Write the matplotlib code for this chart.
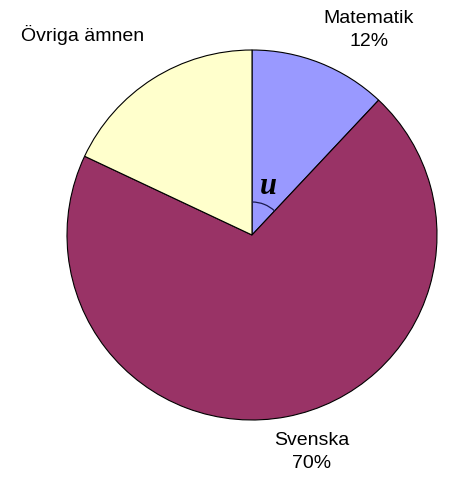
import matplotlib
matplotlib.use("Agg")
import matplotlib.pyplot as plt
from matplotlib.patches import Arc

# data
labels = ["Matematik", "Svenska", "Övriga ämnen"]
shares = [12, 70, 18]
show_pct = [True, True, False]
colors = ["#9999FF", "#993366", "#FFFFCC"]

W, H = 461, 482
cx, cy, r = 252, H - 235, 185

fig = plt.figure(figsize=(W / 100, H / 100), dpi=100)
ax = fig.add_axes([0, 0, 1, 1])

ax.pie(shares, colors=colors, startangle=90, counterclock=False,
       center=(cx, cy), radius=r, frame=True,
       wedgeprops=dict(edgecolor="black", linewidth=0.8))
ax.set_xlim(0, W)
ax.set_ylim(0, H)
ax.set_aspect("equal")
ax.axis("off")

# category labels
label_pos = [(369, H - 30), (312, H - 452), (83, H - 35)]
for lab, pct, show, (x, y) in zip(labels, shares, show_pct, label_pos):
    txt = f"{lab}\n{pct}%" if show else lab
    ax.text(x, y, txt, ha="center", va="center", fontsize=14,
            family="Liberation Sans", linespacing=1.45)

# angle marker for Matematik slice
end_ang = 90 - shares[0] * 3.6
ax.add_patch(Arc((cx, cy), 66, 66, theta1=end_ang, theta2=90,
                 color="#1a1a4d", linewidth=0.9))
ax.text(268, H - 187, "u", fontsize=22, family="Liberation Serif",
        style="italic", weight="bold", ha="center", va="center")

fig.savefig("out.png", dpi=100)
